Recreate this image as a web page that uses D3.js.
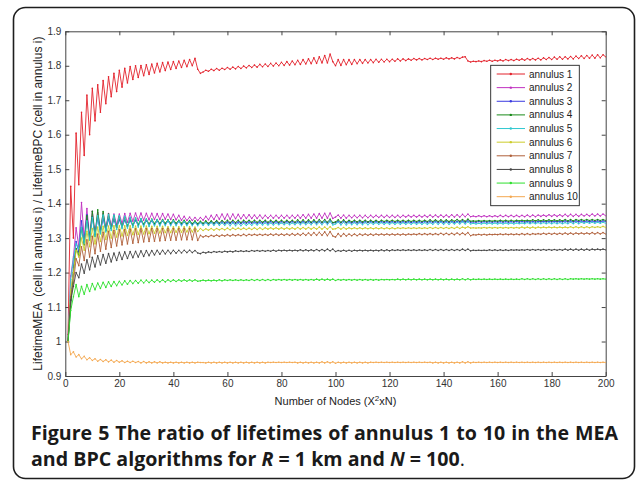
<!DOCTYPE html>
<html>
<head>
<meta charset="utf-8">
<script src="https://cdn.jsdelivr.net/npm/d3@7"></script>
<style>
  body { margin: 0; background: #fff; }
  svg { display: block; }
</style>
</head>
<body>
<svg id="chart" width="637" height="484"></svg>
<script>
// series names, colours and x/y tick values
const seriesNames = ["annulus 1", "annulus 2", "annulus 3", "annulus 4", "annulus 5",
                     "annulus 6", "annulus 7", "annulus 8", "annulus 9", "annulus 10"];
const seriesColors = ["#e3222c", "#c030c0", "#3a3ae0", "#1a8a1a", "#30c8d0",
                      "#cccc2a", "#b0603a", "#454545", "#2ee02e", "#f4a850"];
const xTicks = [0, 20, 40, 60, 80, 100, 120, 140, 160, 180, 200];
const yTicks = [0.9, 1, 1.1, 1.2, 1.3, 1.4, 1.5, 1.6, 1.7, 1.8, 1.9];

// ratio values for X = 1..200
const annulus1 = [
  1.020, 1.450, 1.300, 1.605, 1.455, 1.665, 1.540, 1.715, 1.600, 1.735,
  1.640, 1.745, 1.665, 1.757, 1.690, 1.768, 1.710, 1.778, 1.725, 1.787,
  1.738, 1.793, 1.750, 1.798, 1.760, 1.800, 1.766, 1.801, 1.771, 1.803,
  1.775, 1.805, 1.779, 1.807, 1.782, 1.809, 1.786, 1.811, 1.789, 1.812,
  1.792, 1.814, 1.795, 1.816, 1.797, 1.818, 1.800, 1.822, 1.790, 1.778,
  1.782, 1.787, 1.784, 1.790, 1.786, 1.792, 1.787, 1.793, 1.789, 1.795,
  1.790, 1.796, 1.791, 1.798, 1.792, 1.799, 1.794, 1.801, 1.795, 1.802,
  1.796, 1.804, 1.797, 1.805, 1.798, 1.807, 1.799, 1.808, 1.800, 1.810,
  1.801, 1.812, 1.802, 1.814, 1.803, 1.816, 1.804, 1.818, 1.805, 1.820,
  1.806, 1.823, 1.807, 1.826, 1.808, 1.830, 1.808, 1.834, 1.812, 1.800,
  1.818, 1.801, 1.818, 1.803, 1.818, 1.804, 1.818, 1.806, 1.818, 1.807,
  1.818, 1.808, 1.818, 1.809, 1.819, 1.810, 1.819, 1.811, 1.819, 1.812,
  1.819, 1.813, 1.820, 1.814, 1.820, 1.815, 1.820, 1.816, 1.821, 1.817,
  1.821, 1.817, 1.821, 1.818, 1.822, 1.818, 1.822, 1.819, 1.822, 1.819,
  1.823, 1.820, 1.823, 1.820, 1.824, 1.821, 1.825, 1.826, 1.814, 1.811,
  1.813, 1.812, 1.814, 1.812, 1.815, 1.813, 1.816, 1.813, 1.816, 1.814,
  1.817, 1.814, 1.818, 1.815, 1.818, 1.815, 1.819, 1.816, 1.820, 1.816,
  1.821, 1.817, 1.821, 1.817, 1.822, 1.817, 1.823, 1.818, 1.824, 1.818,
  1.825, 1.819, 1.826, 1.819, 1.826, 1.820, 1.827, 1.820, 1.828, 1.821,
  1.829, 1.821, 1.830, 1.822, 1.831, 1.822, 1.832, 1.823, 1.832, 1.826
];
const annulus2 = [
  1.000, 1.190, 1.245, 1.330, 1.275, 1.403, 1.300, 1.386, 1.305, 1.378,
  1.315, 1.374, 1.325, 1.372, 1.332, 1.371, 1.337, 1.370, 1.340, 1.370,
  1.343, 1.371, 1.346, 1.372, 1.349, 1.373, 1.351, 1.373, 1.352, 1.372,
  1.353, 1.372, 1.354, 1.371, 1.354, 1.371, 1.355, 1.370, 1.354, 1.369,
  1.353, 1.366, 1.352, 1.363, 1.351, 1.361, 1.351, 1.360, 1.351, 1.360,
  1.352, 1.363, 1.353, 1.366, 1.354, 1.368, 1.355, 1.370, 1.355, 1.370,
  1.355, 1.370, 1.356, 1.369, 1.356, 1.368, 1.357, 1.368, 1.357, 1.367,
  1.357, 1.367, 1.357, 1.366, 1.358, 1.366, 1.358, 1.366, 1.358, 1.366,
  1.358, 1.366, 1.358, 1.366, 1.358, 1.367, 1.358, 1.368, 1.358, 1.369,
  1.358, 1.370, 1.358, 1.371, 1.358, 1.372, 1.358, 1.373, 1.357, 1.361,
  1.367, 1.358, 1.367, 1.358, 1.366, 1.359, 1.366, 1.359, 1.366, 1.359,
  1.366, 1.359, 1.366, 1.360, 1.366, 1.360, 1.366, 1.360, 1.366, 1.360,
  1.366, 1.360, 1.366, 1.360, 1.366, 1.361, 1.366, 1.361, 1.366, 1.361,
  1.366, 1.361, 1.366, 1.361, 1.367, 1.361, 1.367, 1.361, 1.367, 1.361,
  1.367, 1.361, 1.368, 1.361, 1.368, 1.361, 1.369, 1.362, 1.370, 1.362,
  1.364, 1.362, 1.365, 1.362, 1.365, 1.362, 1.365, 1.362, 1.365, 1.362,
  1.366, 1.362, 1.366, 1.362, 1.366, 1.362, 1.366, 1.362, 1.366, 1.362,
  1.367, 1.362, 1.367, 1.362, 1.367, 1.363, 1.367, 1.363, 1.368, 1.363,
  1.368, 1.363, 1.368, 1.363, 1.369, 1.363, 1.369, 1.363, 1.369, 1.363,
  1.369, 1.364, 1.369, 1.364, 1.370, 1.364, 1.370, 1.364, 1.370, 1.365
];
const annulus3 = [
  1.000, 1.120, 1.215, 1.290, 1.260, 1.350, 1.285, 1.368, 1.300, 1.362,
  1.310, 1.358, 1.318, 1.356, 1.323, 1.355, 1.327, 1.354, 1.330, 1.353,
  1.332, 1.352, 1.334, 1.351, 1.336, 1.351, 1.337, 1.350, 1.338, 1.350,
  1.339, 1.350, 1.339, 1.349, 1.340, 1.349, 1.340, 1.349, 1.340, 1.348,
  1.340, 1.348, 1.340, 1.347, 1.340, 1.347, 1.340, 1.346, 1.340, 1.346,
  1.341, 1.346, 1.341, 1.347, 1.341, 1.347, 1.342, 1.347, 1.342, 1.347,
  1.342, 1.347, 1.342, 1.347, 1.342, 1.347, 1.343, 1.347, 1.343, 1.347,
  1.343, 1.347, 1.343, 1.348, 1.343, 1.348, 1.343, 1.348, 1.343, 1.348,
  1.344, 1.348, 1.344, 1.348, 1.344, 1.348, 1.344, 1.348, 1.344, 1.349,
  1.344, 1.349, 1.344, 1.349, 1.344, 1.349, 1.344, 1.350, 1.344, 1.345,
  1.349, 1.344, 1.349, 1.344, 1.348, 1.344, 1.348, 1.344, 1.348, 1.344,
  1.348, 1.345, 1.348, 1.345, 1.348, 1.345, 1.348, 1.345, 1.348, 1.345,
  1.348, 1.345, 1.348, 1.345, 1.348, 1.345, 1.348, 1.345, 1.348, 1.345,
  1.348, 1.345, 1.349, 1.345, 1.349, 1.345, 1.349, 1.345, 1.349, 1.345,
  1.349, 1.345, 1.349, 1.345, 1.349, 1.346, 1.350, 1.346, 1.350, 1.346,
  1.347, 1.346, 1.348, 1.346, 1.348, 1.346, 1.348, 1.346, 1.348, 1.346,
  1.348, 1.346, 1.348, 1.346, 1.348, 1.346, 1.349, 1.346, 1.349, 1.346,
  1.349, 1.346, 1.349, 1.346, 1.349, 1.347, 1.349, 1.347, 1.349, 1.347,
  1.349, 1.347, 1.349, 1.347, 1.350, 1.347, 1.350, 1.347, 1.350, 1.347,
  1.350, 1.347, 1.350, 1.347, 1.350, 1.347, 1.350, 1.347, 1.350, 1.348
];
const annulus4 = [
  1.000, 1.100, 1.200, 1.270, 1.250, 1.330, 1.280, 1.365, 1.295, 1.378,
  1.305, 1.382, 1.315, 1.377, 1.322, 1.370, 1.327, 1.365, 1.330, 1.362,
  1.333, 1.360, 1.335, 1.358, 1.337, 1.357, 1.339, 1.356, 1.340, 1.355,
  1.341, 1.355, 1.342, 1.354, 1.342, 1.354, 1.343, 1.353, 1.343, 1.353,
  1.343, 1.352, 1.343, 1.352, 1.342, 1.351, 1.342, 1.350, 1.342, 1.349,
  1.343, 1.350, 1.343, 1.350, 1.344, 1.351, 1.344, 1.351, 1.345, 1.352,
  1.345, 1.352, 1.345, 1.352, 1.345, 1.352, 1.346, 1.352, 1.346, 1.352,
  1.346, 1.352, 1.346, 1.352, 1.346, 1.352, 1.346, 1.352, 1.346, 1.352,
  1.346, 1.352, 1.346, 1.352, 1.346, 1.353, 1.346, 1.353, 1.346, 1.353,
  1.346, 1.353, 1.346, 1.354, 1.346, 1.354, 1.346, 1.355, 1.345, 1.347,
  1.353, 1.346, 1.353, 1.346, 1.352, 1.347, 1.352, 1.347, 1.352, 1.347,
  1.352, 1.347, 1.352, 1.347, 1.352, 1.347, 1.352, 1.348, 1.352, 1.348,
  1.352, 1.348, 1.352, 1.348, 1.352, 1.348, 1.352, 1.348, 1.352, 1.348,
  1.352, 1.348, 1.352, 1.348, 1.353, 1.348, 1.353, 1.348, 1.353, 1.348,
  1.353, 1.348, 1.353, 1.349, 1.354, 1.349, 1.354, 1.349, 1.355, 1.349,
  1.350, 1.349, 1.351, 1.349, 1.351, 1.349, 1.351, 1.349, 1.351, 1.349,
  1.352, 1.349, 1.352, 1.349, 1.352, 1.349, 1.352, 1.350, 1.352, 1.350,
  1.352, 1.350, 1.353, 1.350, 1.353, 1.350, 1.353, 1.350, 1.353, 1.350,
  1.353, 1.350, 1.353, 1.350, 1.354, 1.350, 1.354, 1.350, 1.354, 1.351,
  1.354, 1.351, 1.354, 1.351, 1.354, 1.351, 1.354, 1.351, 1.354, 1.351
];
const annulus5 = [
  1.000, 1.180, 1.240, 1.283, 1.270, 1.330, 1.285, 1.350, 1.295, 1.360,
  1.305, 1.365, 1.312, 1.367, 1.318, 1.368, 1.322, 1.367, 1.325, 1.365,
  1.327, 1.363, 1.329, 1.361, 1.331, 1.359, 1.332, 1.357, 1.333, 1.355,
  1.334, 1.354, 1.335, 1.353, 1.335, 1.352, 1.336, 1.351, 1.336, 1.350,
  1.336, 1.349, 1.336, 1.348, 1.336, 1.347, 1.336, 1.346, 1.336, 1.345,
  1.337, 1.345, 1.337, 1.345, 1.337, 1.345, 1.337, 1.344, 1.337, 1.344,
  1.336, 1.344, 1.336, 1.343, 1.336, 1.343, 1.337, 1.343, 1.337, 1.344,
  1.338, 1.344, 1.338, 1.344, 1.338, 1.344, 1.338, 1.344, 1.339, 1.344,
  1.339, 1.344, 1.339, 1.344, 1.339, 1.345, 1.339, 1.345, 1.339, 1.345,
  1.339, 1.346, 1.339, 1.346, 1.339, 1.347, 1.339, 1.348, 1.338, 1.341,
  1.346, 1.338, 1.346, 1.338, 1.345, 1.339, 1.345, 1.339, 1.345, 1.339,
  1.345, 1.339, 1.345, 1.340, 1.345, 1.340, 1.345, 1.340, 1.345, 1.340,
  1.345, 1.340, 1.345, 1.340, 1.345, 1.340, 1.345, 1.340, 1.345, 1.340,
  1.345, 1.340, 1.345, 1.340, 1.345, 1.340, 1.346, 1.340, 1.346, 1.340,
  1.346, 1.340, 1.346, 1.341, 1.346, 1.341, 1.347, 1.341, 1.347, 1.341,
  1.343, 1.341, 1.343, 1.341, 1.344, 1.341, 1.344, 1.341, 1.344, 1.341,
  1.344, 1.341, 1.344, 1.341, 1.344, 1.341, 1.344, 1.342, 1.344, 1.342,
  1.345, 1.342, 1.345, 1.342, 1.345, 1.342, 1.345, 1.342, 1.345, 1.342,
  1.345, 1.342, 1.345, 1.342, 1.345, 1.342, 1.346, 1.342, 1.346, 1.342,
  1.346, 1.343, 1.346, 1.343, 1.346, 1.343, 1.346, 1.343, 1.346, 1.343
];
const annulus6 = [
  1.000, 1.150, 1.200, 1.265, 1.245, 1.300, 1.265, 1.320, 1.275, 1.328,
  1.283, 1.332, 1.290, 1.334, 1.296, 1.335, 1.300, 1.336, 1.303, 1.336,
  1.306, 1.336, 1.308, 1.336, 1.310, 1.335, 1.311, 1.335, 1.312, 1.335,
  1.313, 1.334, 1.314, 1.334, 1.315, 1.334, 1.316, 1.333, 1.316, 1.333,
  1.317, 1.333, 1.317, 1.333, 1.318, 1.333, 1.318, 1.332, 1.319, 1.328,
  1.322, 1.327, 1.323, 1.328, 1.323, 1.328, 1.324, 1.328, 1.324, 1.329,
  1.324, 1.329, 1.325, 1.329, 1.325, 1.329, 1.325, 1.329, 1.325, 1.330,
  1.325, 1.330, 1.325, 1.330, 1.326, 1.330, 1.326, 1.330, 1.326, 1.330,
  1.326, 1.330, 1.326, 1.330, 1.326, 1.331, 1.326, 1.331, 1.326, 1.331,
  1.326, 1.331, 1.326, 1.332, 1.326, 1.332, 1.326, 1.333, 1.326, 1.327,
  1.331, 1.326, 1.331, 1.326, 1.330, 1.327, 1.330, 1.327, 1.330, 1.327,
  1.330, 1.327, 1.330, 1.327, 1.330, 1.327, 1.330, 1.327, 1.330, 1.327,
  1.330, 1.327, 1.330, 1.328, 1.330, 1.328, 1.330, 1.328, 1.330, 1.328,
  1.330, 1.328, 1.330, 1.328, 1.331, 1.328, 1.331, 1.328, 1.331, 1.328,
  1.331, 1.328, 1.331, 1.328, 1.332, 1.328, 1.332, 1.329, 1.333, 1.329,
  1.330, 1.329, 1.330, 1.329, 1.331, 1.329, 1.331, 1.329, 1.331, 1.329,
  1.331, 1.329, 1.331, 1.329, 1.331, 1.329, 1.331, 1.329, 1.332, 1.329,
  1.332, 1.329, 1.332, 1.329, 1.332, 1.330, 1.332, 1.330, 1.332, 1.330,
  1.332, 1.330, 1.332, 1.330, 1.332, 1.330, 1.333, 1.330, 1.333, 1.330,
  1.333, 1.330, 1.333, 1.330, 1.333, 1.331, 1.333, 1.331, 1.334, 1.331
];
const annulus7 = [
  1.000, 1.130, 1.170, 1.240, 1.220, 1.275, 1.235, 1.295, 1.245, 1.305,
  1.255, 1.312, 1.262, 1.317, 1.268, 1.320, 1.273, 1.322, 1.277, 1.324,
  1.280, 1.325, 1.283, 1.326, 1.285, 1.327, 1.287, 1.327, 1.289, 1.328,
  1.290, 1.328, 1.291, 1.328, 1.292, 1.328, 1.293, 1.328, 1.294, 1.328,
  1.294, 1.328, 1.295, 1.328, 1.295, 1.328, 1.295, 1.327, 1.293, 1.308,
  1.303, 1.307, 1.304, 1.308, 1.305, 1.309, 1.305, 1.309, 1.306, 1.310,
  1.306, 1.310, 1.307, 1.310, 1.307, 1.311, 1.307, 1.311, 1.308, 1.311,
  1.308, 1.311, 1.308, 1.311, 1.308, 1.312, 1.308, 1.312, 1.308, 1.312,
  1.308, 1.312, 1.308, 1.313, 1.308, 1.313, 1.308, 1.314, 1.308, 1.315,
  1.308, 1.316, 1.308, 1.317, 1.308, 1.318, 1.307, 1.319, 1.306, 1.303,
  1.313, 1.305, 1.313, 1.306, 1.312, 1.307, 1.312, 1.307, 1.312, 1.308,
  1.312, 1.308, 1.312, 1.308, 1.312, 1.309, 1.312, 1.309, 1.312, 1.309,
  1.312, 1.309, 1.312, 1.309, 1.312, 1.309, 1.312, 1.310, 1.312, 1.310,
  1.313, 1.310, 1.313, 1.310, 1.313, 1.310, 1.313, 1.310, 1.314, 1.310,
  1.314, 1.310, 1.314, 1.310, 1.315, 1.310, 1.315, 1.310, 1.316, 1.307,
  1.310, 1.309, 1.311, 1.309, 1.311, 1.309, 1.311, 1.310, 1.311, 1.310,
  1.312, 1.310, 1.312, 1.310, 1.312, 1.310, 1.312, 1.310, 1.313, 1.310,
  1.313, 1.310, 1.313, 1.311, 1.313, 1.311, 1.314, 1.311, 1.314, 1.311,
  1.314, 1.311, 1.314, 1.311, 1.315, 1.311, 1.315, 1.311, 1.315, 1.312,
  1.315, 1.312, 1.315, 1.312, 1.316, 1.312, 1.316, 1.312, 1.316, 1.312
];
const annulus8 = [
  1.000, 1.120, 1.160, 1.200, 1.185, 1.225, 1.198, 1.237, 1.208, 1.244,
  1.216, 1.249, 1.222, 1.252, 1.227, 1.255, 1.231, 1.257, 1.235, 1.259,
  1.238, 1.260, 1.241, 1.261, 1.243, 1.262, 1.245, 1.263, 1.247, 1.264,
  1.249, 1.264, 1.251, 1.265, 1.253, 1.265, 1.254, 1.265, 1.255, 1.265,
  1.256, 1.265, 1.257, 1.265, 1.258, 1.265, 1.258, 1.264, 1.257, 1.255,
  1.259, 1.257, 1.260, 1.258, 1.261, 1.259, 1.261, 1.259, 1.262, 1.260,
  1.262, 1.260, 1.263, 1.261, 1.263, 1.261, 1.263, 1.261, 1.264, 1.262,
  1.264, 1.262, 1.264, 1.262, 1.264, 1.262, 1.265, 1.262, 1.265, 1.263,
  1.265, 1.263, 1.265, 1.263, 1.265, 1.263, 1.266, 1.263, 1.266, 1.263,
  1.266, 1.263, 1.267, 1.263, 1.267, 1.263, 1.268, 1.263, 1.268, 1.261,
  1.264, 1.262, 1.265, 1.262, 1.265, 1.262, 1.265, 1.263, 1.265, 1.263,
  1.265, 1.263, 1.265, 1.263, 1.265, 1.263, 1.266, 1.263, 1.266, 1.263,
  1.266, 1.264, 1.266, 1.264, 1.266, 1.264, 1.266, 1.264, 1.266, 1.264,
  1.266, 1.264, 1.266, 1.264, 1.267, 1.264, 1.267, 1.264, 1.267, 1.264,
  1.267, 1.264, 1.267, 1.264, 1.267, 1.264, 1.268, 1.264, 1.268, 1.263,
  1.265, 1.264, 1.265, 1.264, 1.265, 1.264, 1.266, 1.264, 1.266, 1.264,
  1.266, 1.264, 1.266, 1.264, 1.266, 1.265, 1.266, 1.265, 1.266, 1.265,
  1.267, 1.265, 1.267, 1.265, 1.267, 1.265, 1.267, 1.265, 1.267, 1.265,
  1.267, 1.265, 1.267, 1.265, 1.268, 1.265, 1.268, 1.265, 1.268, 1.265,
  1.268, 1.265, 1.268, 1.265, 1.268, 1.266, 1.268, 1.266, 1.268, 1.266
];
const annulus9 = [
  1.000, 1.090, 1.130, 1.165, 1.130, 1.160, 1.137, 1.165, 1.145, 1.168,
  1.150, 1.170, 1.154, 1.172, 1.157, 1.173, 1.160, 1.174, 1.162, 1.175,
  1.164, 1.176, 1.166, 1.177, 1.168, 1.177, 1.169, 1.178, 1.170, 1.178,
  1.171, 1.178, 1.172, 1.179, 1.173, 1.179, 1.173, 1.179, 1.174, 1.179,
  1.174, 1.179, 1.175, 1.179, 1.175, 1.179, 1.175, 1.179, 1.175, 1.176,
  1.178, 1.176, 1.178, 1.176, 1.178, 1.176, 1.179, 1.176, 1.179, 1.177,
  1.179, 1.177, 1.179, 1.177, 1.179, 1.177, 1.179, 1.177, 1.180, 1.177,
  1.180, 1.177, 1.180, 1.177, 1.180, 1.177, 1.180, 1.178, 1.180, 1.178,
  1.180, 1.178, 1.180, 1.178, 1.180, 1.178, 1.180, 1.178, 1.180, 1.178,
  1.180, 1.178, 1.181, 1.178, 1.181, 1.178, 1.181, 1.178, 1.181, 1.177,
  1.180, 1.178, 1.180, 1.178, 1.180, 1.178, 1.180, 1.178, 1.180, 1.178,
  1.180, 1.178, 1.180, 1.178, 1.180, 1.178, 1.180, 1.179, 1.180, 1.179,
  1.180, 1.179, 1.181, 1.179, 1.181, 1.179, 1.181, 1.179, 1.181, 1.179,
  1.181, 1.179, 1.181, 1.179, 1.181, 1.179, 1.181, 1.179, 1.181, 1.179,
  1.181, 1.179, 1.181, 1.179, 1.181, 1.179, 1.182, 1.179, 1.182, 1.179,
  1.181, 1.180, 1.181, 1.180, 1.181, 1.180, 1.181, 1.180, 1.181, 1.180,
  1.181, 1.180, 1.181, 1.180, 1.181, 1.180, 1.181, 1.180, 1.182, 1.180,
  1.182, 1.180, 1.182, 1.180, 1.182, 1.180, 1.182, 1.180, 1.182, 1.180,
  1.182, 1.180, 1.182, 1.180, 1.182, 1.180, 1.182, 1.181, 1.182, 1.181,
  1.182, 1.181, 1.182, 1.181, 1.182, 1.181, 1.182, 1.181, 1.182, 1.181
];
const annulus10 = [
  1.000, 0.962, 0.970, 0.955, 0.962, 0.950, 0.957, 0.947, 0.953, 0.945,
  0.950, 0.943, 0.948, 0.942, 0.947, 0.941, 0.946, 0.940, 0.945, 0.940,
  0.944, 0.939, 0.943, 0.939, 0.943, 0.939, 0.942, 0.938, 0.942, 0.938,
  0.941, 0.938, 0.941, 0.938, 0.941, 0.938, 0.940, 0.938, 0.940, 0.938,
  0.940, 0.938, 0.940, 0.938, 0.940, 0.938, 0.940, 0.938, 0.940, 0.939,
  0.939, 0.938, 0.940, 0.938, 0.940, 0.938, 0.940, 0.938, 0.940, 0.938,
  0.940, 0.938, 0.940, 0.938, 0.940, 0.938, 0.940, 0.938, 0.940, 0.938,
  0.940, 0.938, 0.940, 0.938, 0.940, 0.939, 0.940, 0.939, 0.940, 0.939,
  0.940, 0.939, 0.940, 0.939, 0.940, 0.938, 0.940, 0.938, 0.940, 0.938,
  0.940, 0.938, 0.940, 0.938, 0.941, 0.938, 0.941, 0.938, 0.941, 0.937,
  0.940, 0.938, 0.940, 0.938, 0.940, 0.938, 0.940, 0.938, 0.940, 0.938,
  0.940, 0.938, 0.940, 0.939, 0.940, 0.939, 0.940, 0.939, 0.940, 0.939,
  0.940, 0.939, 0.940, 0.939, 0.940, 0.939, 0.940, 0.939, 0.940, 0.939,
  0.940, 0.939, 0.940, 0.939, 0.940, 0.938, 0.940, 0.938, 0.940, 0.938,
  0.940, 0.938, 0.940, 0.938, 0.940, 0.938, 0.941, 0.938, 0.941, 0.938,
  0.940, 0.939, 0.940, 0.939, 0.940, 0.939, 0.940, 0.939, 0.940, 0.939,
  0.940, 0.939, 0.940, 0.939, 0.940, 0.939, 0.940, 0.939, 0.940, 0.939,
  0.940, 0.939, 0.940, 0.939, 0.940, 0.939, 0.940, 0.939, 0.940, 0.939,
  0.940, 0.939, 0.940, 0.939, 0.940, 0.939, 0.940, 0.939, 0.940, 0.939,
  0.940, 0.939, 0.940, 0.939, 0.940, 0.939, 0.940, 0.939, 0.940, 0.939
];
const allSeries = [annulus1, annulus2, annulus3, annulus4, annulus5,
                   annulus6, annulus7, annulus8, annulus9, annulus10];

const svg = d3.select("#chart");
const axisColor = "#444";
const tickFont = "'Liberation Sans', Arial, sans-serif";

// card frame
svg.append("rect")
  .attr("x", 13.5).attr("y", 7.5)
  .attr("width", 621).attr("height", 471)
  .attr("rx", 12).attr("ry", 12)
  .attr("fill", "#fff")
  .attr("stroke", "#1e1e1e")
  .attr("stroke-width", 1.6);

const plot = { left: 65.3, right: 605.7, top: 31.3, bottom: 376 };

const x = d3.scaleLinear().domain([0, 200]).range([plot.left, plot.right]);
const y = d3.scaleLinear().domain([0.9, 1.9]).range([plot.bottom, plot.top]);

// axes, ticks pointing inwards on all four sides
function styleAxis(g) {
  g.select(".domain").attr("stroke", axisColor).attr("stroke-width", 1);
  g.selectAll(".tick line").attr("stroke", axisColor);
  g.selectAll(".tick text")
    .attr("fill", "#333")
    .style("font-family", tickFont)
    .style("font-size", "10px");
}

svg.append("g")
  .attr("transform", `translate(0,${plot.bottom})`)
  .call(d3.axisBottom(x).tickValues(xTicks).tickFormat(d3.format("d"))
    .tickSizeInner(-4).tickSizeOuter(0).tickPadding(4))
  .call(styleAxis);

svg.append("g")
  .attr("transform", `translate(0,${plot.top})`)
  .call(d3.axisTop(x).tickValues(xTicks).tickFormat("")
    .tickSizeInner(-4).tickSizeOuter(0))
  .call(styleAxis);

svg.append("g")
  .attr("transform", `translate(${plot.left},0)`)
  .call(d3.axisLeft(y).tickValues(yTicks).tickFormat(d => d3.format("~g")(d))
    .tickSizeInner(-4).tickSizeOuter(0).tickPadding(4))
  .call(styleAxis);

svg.append("g")
  .attr("transform", `translate(${plot.right},0)`)
  .call(d3.axisRight(y).tickValues(yTicks).tickFormat("")
    .tickSizeInner(-4).tickSizeOuter(0))
  .call(styleAxis);

// axis titles
const xTitle = svg.append("text")
  .attr("x", (plot.left + plot.right) / 2)
  .attr("y", 405)
  .attr("text-anchor", "middle")
  .attr("fill", "#222")
  .style("font-family", tickFont)
  .style("font-size", "11px");
xTitle.append("tspan").text("Number of Nodes (X");
xTitle.append("tspan").attr("dy", -4).style("font-size", "8px").text("2");
xTitle.append("tspan").attr("dy", 4).text("xN)");

svg.append("text")
  .attr("transform", `translate(42,${(plot.top + plot.bottom) / 2}) rotate(-90)`)
  .attr("text-anchor", "middle")
  .attr("fill", "#222")
  .style("font-family", tickFont)
  .style("font-size", "12px")
  .style("white-space", "pre")
  .text("LifetimeMEA  (cell in annulus i) / LifetimeBPC (cell in annulus i)");

// series lines with small point markers
const clip = svg.append("clipPath").attr("id", "plotClip")
  .append("rect")
  .attr("x", plot.left).attr("y", plot.top)
  .attr("width", plot.right - plot.left).attr("height", plot.bottom - plot.top);

const line = d3.line()
  .x((d, i) => x(i + 1))
  .y(d => y(d));

const seriesG = svg.append("g").attr("clip-path", "url(#plotClip)");

allSeries.forEach((vals, k) => {
  seriesG.append("path")
    .datum(vals)
    .attr("fill", "none")
    .attr("stroke", seriesColors[k])
    .attr("stroke-width", 0.9)
    .attr("d", line);

  seriesG.append("g")
    .selectAll("circle")
    .data(vals)
    .join("circle")
    .attr("cx", (d, i) => x(i + 1))
    .attr("cy", d => y(d))
    .attr("r", 0.8)
    .attr("fill", seriesColors[k]);
});

// legend
const legend = svg.append("g");
legend.append("rect")
  .attr("x", 490.7).attr("y", 65.3)
  .attr("width", 88.6).attr("height", 140.4)
  .attr("fill", "#fff")
  .attr("stroke", "#222")
  .attr("stroke-width", 0.9);

const legendRow = d3.scaleLinear().domain([0, 9]).range([74, 196.7]);

seriesNames.forEach((name, k) => {
  const ly = legendRow(k);
  legend.append("line")
    .attr("x1", 496.7).attr("x2", 525)
    .attr("y1", ly).attr("y2", ly)
    .attr("stroke", seriesColors[k])
    .attr("stroke-width", 1);
  legend.append("circle")
    .attr("cx", 510.8).attr("cy", ly)
    .attr("r", 1.2)
    .attr("fill", seriesColors[k]);
  legend.append("text")
    .attr("x", 529).attr("y", ly)
    .attr("dy", "0.35em")
    .attr("fill", "#222")
    .style("font-family", tickFont)
    .style("font-size", "10px")
    .text(name);
});

// caption
const capFont = "'Open Sans', 'Noto Sans', sans-serif";
const capLeft = 31, capRight = 618;

const cap1 = svg.append("text")
  .attr("x", capLeft).attr("y", 440)
  .attr("fill", "#1a1a1a")
  .style("font-family", capFont)
  .style("font-weight", 700)
  .style("font-size", "18px")
  .text("Figure 5 The ratio of lifetimes of annulus 1 to 10 in the MEA");

const cap2 = svg.append("text")
  .attr("x", capLeft).attr("y", 466)
  .attr("fill", "#1a1a1a")
  .style("font-family", capFont)
  .style("font-weight", 700)
  .style("font-size", "18px");
cap2.append("tspan").text("and BPC algorithms for ");
cap2.append("tspan").style("font-style", "italic").text("R");
cap2.append("tspan").text(" = 1 km and ");
cap2.append("tspan").style("font-style", "italic").text("N");
cap2.append("tspan").text(" = 100");
cap2.append("tspan").style("font-weight", 400).text(".");

// fit caption size to the reference line width, then justify line 1
const line2Target = 434;
const w2 = cap2.node().getComputedTextLength();
const capSize = 18 * line2Target / w2;
cap1.style("font-size", capSize + "px");
cap2.style("font-size", capSize + "px");

const w1 = cap1.node().getComputedTextLength();
const gaps = cap1.text().split(" ").length - 1;
cap1.style("word-spacing", ((capRight - capLeft - w1) / gaps) + "px");
</script>
</body>
</html>
